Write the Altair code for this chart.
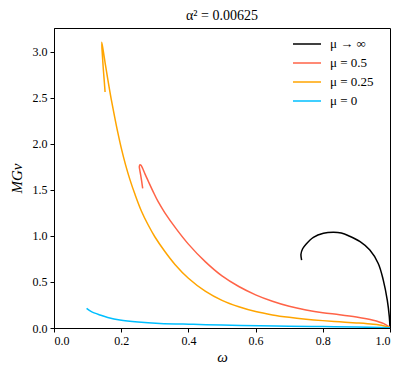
import altair as alt
import pandas as pd

series_names = ["μ → ∞", "μ = 0.5", "μ = 0.25", "μ = 0"]
series_colors = ["#000000", "#ff6347", "#ffa500", "#00bfff"]

omega_inf = [0.737, 0.735, 0.740, 0.750, 0.772, 0.802, 0.831, 0.855, 0.880, 0.911, 0.940, 0.965, 0.980, 0.992, 0.998, 1.0]
mgv_inf = [0.737, 0.80, 0.86, 0.91, 0.984, 1.027, 1.038, 1.03, 0.995, 0.936, 0.846, 0.70, 0.52, 0.30, 0.12, 0.0]

omega_05 = [0.264, 0.261, 0.258, 0.255, 0.254, 0.256, 0.259, 0.264, 0.271, 0.281, 0.295, 0.31, 0.33, 0.365, 0.40, 0.45, 0.50, 0.55, 0.60, 0.65, 0.70, 0.75, 0.80, 0.85, 0.90, 0.95, 0.98, 1.0]
mgv_05 = [1.515, 1.59, 1.66, 1.72, 1.755, 1.772, 1.765, 1.73, 1.67, 1.59, 1.48, 1.37, 1.25, 1.07, 0.91, 0.72, 0.565, 0.45, 0.36, 0.29, 0.235, 0.195, 0.165, 0.145, 0.12, 0.085, 0.05, 0.005]

omega_025 = [0.152, 0.150, 0.147, 0.144, 0.142, 0.146, 0.152, 0.160, 0.170, 0.180, 0.190, 0.201, 0.213, 0.226, 0.241, 0.26, 0.28, 0.30, 0.33, 0.36, 0.40, 0.45, 0.50, 0.55, 0.60, 0.65, 0.70, 0.75, 0.80, 0.85, 0.90, 0.95, 0.98, 1.0]
mgv_025 = [2.56, 2.66, 2.80, 2.96, 3.10, 3.02, 2.88, 2.70, 2.49, 2.30, 2.12, 1.94, 1.77, 1.61, 1.45, 1.27, 1.12, 0.99, 0.83, 0.69, 0.54, 0.40, 0.30, 0.23, 0.178, 0.142, 0.116, 0.096, 0.08, 0.067, 0.055, 0.04, 0.025, 0.005]

omega_0 = [0.097, 0.11, 0.137, 0.16, 0.196, 0.25, 0.315, 0.414, 0.5, 0.613, 0.7, 0.8, 0.9, 1.0]
mgv_0 = [0.213, 0.18, 0.141, 0.115, 0.087, 0.065, 0.05, 0.04, 0.032, 0.025, 0.02, 0.015, 0.01, 0.003]

x_ticks = [0.0, 0.2, 0.4, 0.6, 0.8, 1.0]
y_ticks = [0.0, 0.5, 1.0, 1.5, 2.0, 2.5, 3.0]

rows = []
for name, om, mg in zip(series_names,
                        [omega_inf, omega_05, omega_025, omega_0],
                        [mgv_inf, mgv_05, mgv_025, mgv_0]):
    for i, (a, b) in enumerate(zip(om, mg)):
        rows.append({"series": name, "omega": a, "mgv": b, "idx": i})
df = pd.DataFrame(rows)

FONT = "Liberation Serif"

chart = alt.Chart(df).mark_line(strokeWidth=1.5, interpolate="catmull-rom", clip=True).encode(
    x=alt.X("omega:Q", scale=alt.Scale(domain=[0, 1], nice=False, zero=False),
            axis=alt.Axis(title="ω", values=x_ticks, format=".1f", titleFontStyle="italic")),
    y=alt.Y("mgv:Q", scale=alt.Scale(domain=[0, 3.255], nice=False),
            axis=alt.Axis(title="MGv", values=y_ticks, format=".1f", titleFontStyle="italic")),
    color=alt.Color("series:N", scale=alt.Scale(domain=series_names, range=series_colors),
                    legend=alt.Legend(title=None, orient="none", legendX=245, legendY=8,
                                      symbolType="M-2,0L2,0", symbolSize=196, symbolStrokeWidth=1.5,
                                      labelFontSize=13, labelFont=FONT, rowPadding=4,
                                      labelOffset=15)),
    detail="series:N",
    order="idx:Q",
).properties(
    width=336, height=300,
    title=alt.Title("α² = 0.00625", font=FONT, fontSize=14, fontWeight="normal", offset=5),
    autosize=alt.AutoSizeParams(type="none"),
    padding={"left": 46, "top": 20, "right": 5, "bottom": 41},
).configure_axis(
    labelFont=FONT, labelFontSize=12, labelColor="#000", titleFont=FONT, titleFontSize=15,
    titleFontWeight="normal", titleColor="#000", grid=False, domainColor="#000",
    tickColor="#000", tickSize=4, labelPadding=3,
).configure_axisY(titlePadding=8).configure_axisX(titlePadding=3).configure_view(
    stroke="#000", strokeWidth=1
)

chart.save("out.html", embed_options={"renderer": "svg", "actions": False})
